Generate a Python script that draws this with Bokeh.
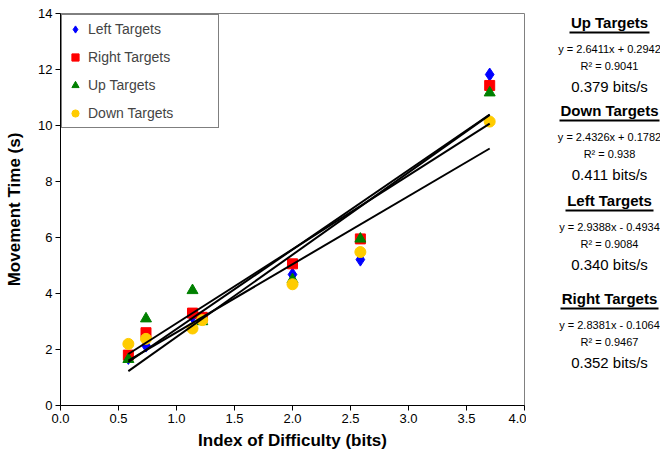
from bokeh.plotting import figure
from bokeh.layouts import row
from bokeh.models import Range1d, FixedTicker, NumeralTickFormatter, Legend, LegendItem
from bokeh.core.properties import value
from bokeh.embed import file_html
from bokeh.resources import INLINE

# ---------------- data ----------------
index_of_difficulty = [0.585, 0.737, 1.138, 1.222, 2.000, 2.585, 3.700]
left_mt = [1.70, 2.14, 3.18, 3.15, 4.68, 5.21, 11.82]
right_mt = [1.80, 2.60, 3.30, 3.15, 5.06, 5.95, 11.43]
up_mt = [1.65, 3.10, 4.11, 3.00, 4.50, 5.95, 11.17]
down_mt = [2.20, 2.38, 2.75, 3.05, 4.33, 5.48, 10.14]

series_names = ["Left Targets", "Right Targets", "Up Targets", "Down Targets"]

fit_names = ["Up Targets", "Down Targets", "Left Targets", "Right Targets"]
fit_slopes = [2.6411, 2.4326, 2.9388, 2.8381]
fit_intercepts = [0.2942, 0.1782, -0.4934, -0.1064]
fit_r2 = ["0.9041", "0.938", "0.9084", "0.9467"]
fit_throughput = ["0.379", "0.411", "0.340", "0.352"]

x_ticks = [0.0, 0.5, 1.0, 1.5, 2.0, 2.5, 3.0, 3.5, 4.0]
y_ticks = [0, 2, 4, 6, 8, 10, 12, 14]

# ---------------- layout ----------------
H = 459
W1 = 526
W2 = 660 - W1
BL, BR, BT, BB = 60, 2, 13, 54
XMAX, YMAX = 4.0, 14.0
FONT = "Liberation Sans"

p = figure(width=W1, height=H, output_backend="svg", toolbar_location=None,
           x_range=Range1d(0, XMAX), y_range=Range1d(0, YMAX),
           min_border_left=BL, min_border_right=BR, min_border_top=BT, min_border_bottom=BB)
p.background_fill_color = "white"
p.border_fill_color = "white"
p.outline_line_color = "#808080"
p.outline_line_width = 1
p.grid.visible = False

for ax in (p.xaxis[0], p.yaxis[0]):
    ax.axis_line_color = "black"
    ax.major_tick_line_color = "black"
    ax.minor_tick_line_color = None
    ax.major_tick_out = 5
    ax.major_tick_in = 0
    ax.major_label_text_font = FONT
    ax.major_label_text_font_size = "13px"
    ax.major_label_text_color = "black"
    ax.axis_label_text_font = FONT
    ax.axis_label_text_font_size = "17px"
    ax.axis_label_text_font_style = "bold"
    ax.axis_label_text_color = "black"

p.xaxis.ticker = FixedTicker(ticks=x_ticks)
p.xaxis.formatter = NumeralTickFormatter(format="0.0")
p.yaxis.ticker = FixedTicker(ticks=y_ticks)
p.xaxis.axis_label = "Index of Difficulty (bits)"
p.yaxis.axis_label = "Movement Time (s)"
p.xaxis.major_label_standoff = 3
p.xaxis.axis_label_standoff = 5
p.yaxis.major_label_standoff = 3
p.yaxis.axis_label_standoff = 11

r_left = p.scatter(index_of_difficulty, left_mt, marker="diamond", size=13,
                   fill_color="#0000FF", line_color="#0000FF")
r_right = p.scatter(index_of_difficulty, right_mt, marker="square", size=10,
                    fill_color="#FF0000", line_color="#FF0000")
r_up = p.scatter(index_of_difficulty, up_mt, marker="triangle", size=11,
                 fill_color="#008000", line_color="#008000")
r_down = p.scatter(index_of_difficulty, down_mt, marker="circle", size=11,
                   fill_color="#FFCC00", line_color="#FFCC00")

# trend lines from the fitted equations
x0, x1 = min(index_of_difficulty), max(index_of_difficulty)
for m, b in zip(fit_slopes, fit_intercepts):
    p.line([x0, x1], [m * x0 + b, m * x1 + b], line_color="black", line_width=2)

legend = Legend(items=[LegendItem(label=n, renderers=[r]) for n, r in
                       zip(series_names, [r_left, r_right, r_up, r_down])],
                location="top_left", margin=1, padding=4,
                glyph_width=18, glyph_height=20, label_height=20, spacing=8,
                label_standoff=4, label_width=126,
                label_text_font=FONT, label_text_font_size="14px",
                border_line_color="black", border_line_width=1,
                background_fill_color="white", background_fill_alpha=1)
p.add_layout(legend, "center")

# ---------------- side panel with the fit summaries ----------------
# its frame is aligned with the main frame (top BT, bottom H-BB), so y values are page pixels
s = figure(width=W2, height=H, output_backend="svg", toolbar_location=None,
           x_range=Range1d(0, W2), y_range=Range1d(H - BB, BT),
           x_axis_type=None, y_axis_type=None,
           min_border_left=0, min_border_right=0, min_border_top=BT, min_border_bottom=BB)
s.outline_line_color = None
s.grid.visible = False
s.background_fill_color = "white"
s.border_fill_color = "white"

header_py = [22, 110, 200, 298]
header_half = [40, 50, 44, 49]
cx = 609 - W1

tx, ty, tt, tsize, tstyle = [], [], [], [], []
for name, m, b, r2, tp, hy in zip(fit_names, fit_slopes, fit_intercepts, fit_r2,
                                  fit_throughput, header_py):
    sign = "+" if b >= 0 else "-"
    for t, off, fs, st in [(name, 0, "15px", "bold"),
                           (f"y = {m:.4f}x {sign} {abs(b):.4f}", 26, "11px", "normal"),
                           (f"R\u00b2 = {r2}", 43, "11px", "normal"),
                           (f"{tp} bits/s", 64, "15px", "normal")]:
        tx.append(cx); ty.append(hy + off); tt.append(t); tsize.append(fs); tstyle.append(st)

s.text(x=tx, y=ty, text=tt, text_font=value(FONT), text_font_size=tsize,
       text_font_style=tstyle, text_align="center", text_baseline="middle",
       text_color="black")
s.segment(x0=[cx - h for h in header_half], x1=[cx + h for h in header_half],
          y0=[hy + 10 for hy in header_py], y1=[hy + 10 for hy in header_py],
          line_color="black", line_width=2)

layout = row(p, s, spacing=0)
open("out.html", "w").write(file_html(layout, INLINE))
